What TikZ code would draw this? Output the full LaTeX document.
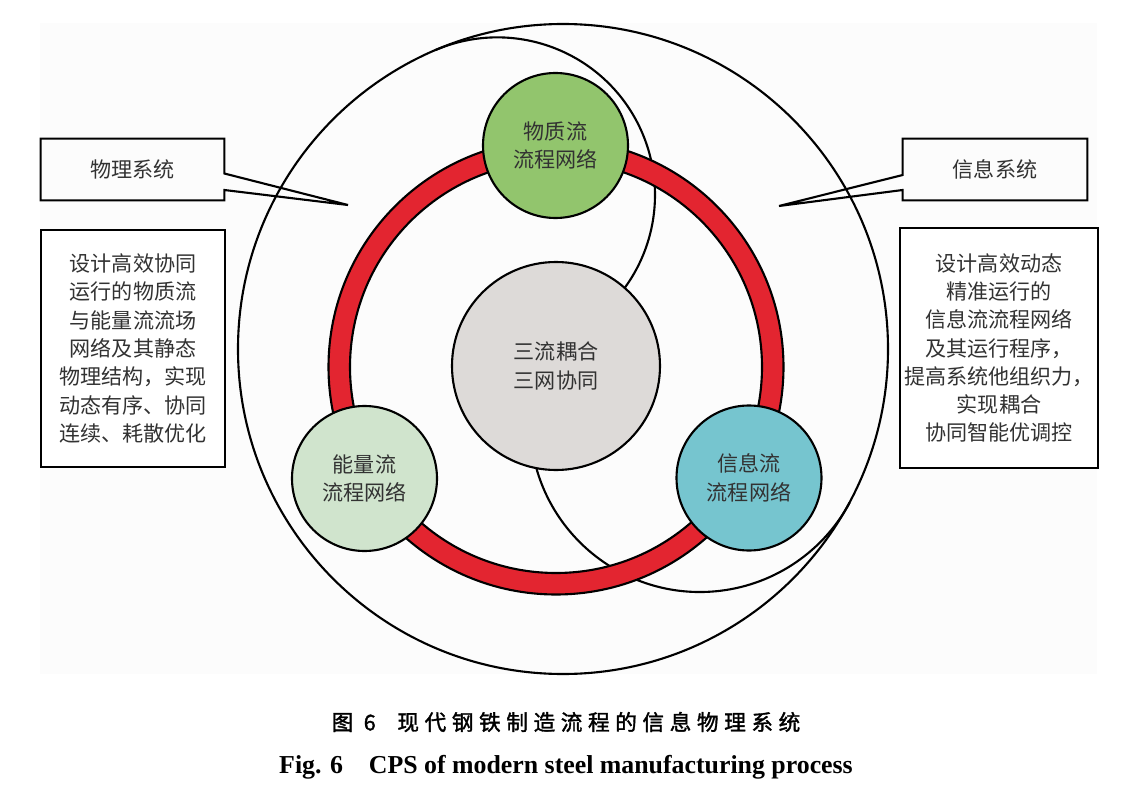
\documentclass[tikz,border=0pt]{standalone}
\usepackage{fontspec}
\setmainfont{Liberation Serif}
\newfontfamily\cjk{Noto Sans CJK SC}
\newfontfamily\cjkcap{Noto Sans CJK SC}[LetterSpace=26, FakeBold=1.6]
\usetikzlibrary{calc}

\definecolor{bgpaper}{RGB}{252,252,252}
\definecolor{ringred}{RGB}{227,37,48}
\definecolor{matgreen}{RGB}{146,197,109}
\definecolor{enggreen}{RGB}{208,228,205}
\definecolor{infocyan}{RGB}{118,197,207}
\definecolor{coregray}{RGB}{221,218,216}
\definecolor{txtgray}{RGB}{50,50,50}

\newcommand{\bodyfont}{\cjk\fontsize{12}{16.1}\selectfont}

\begin{document}
\begin{tikzpicture}[
x=0.2mm, y=0.2mm,
line/.style={draw=black, line width=1.2pt},
flow/.style={line, circle, minimum size=29mm, inner sep=0pt, align=center, font=\bodyfont, text=txtgray},
textbox/.style={line, rectangle, fill=white, inner sep=0pt, align=center, font=\bodyfont, text=txtgray},
callout/.style={rectangle, minimum width=36.6mm, minimum height=12.2mm, inner sep=0pt, font=\bodyfont, text=txtgray}
]
\useasboundingbox (0,0) rectangle (1134,810);
\fill[bgpaper] (40,136) rectangle (1097,787);

% outer circle and the two swoosh arcs
\node[line, circle, minimum size=130mm, inner sep=0pt] (outer) at (563,461) {};
\coordinate (arcA) at (497.4,615);
\coordinate (arcB) at (700,388);
\draw[line] (arcA) ++(113:157.6) arc[start angle=113, end angle=-40, radius=157.6];
\draw[line] (arcB) ++(187:170) arc[start angle=187, end angle=331.8, radius=170];

% red ring
\coordinate (ring) at (556,443);
\draw[line, fill=ringred, even odd rule] (ring) circle[radius=227.5] (ring) circle[radius=206];

% flow networks
\node[flow, fill=matgreen] (mat) at (555.5,664.5) {物质流\\流程网络};
\node[flow, fill=enggreen] (eng) at (364.5,331.5) {能量流\\流程网络};
\node[flow, fill=infocyan] (info) at (749,332) {信息流\\流程网络};
\node[flow, fill=coregray, minimum size=41.6mm] (core) at (556,444) {三流耦合\\三网协同};

% callouts
\node[callout] (phys) at (132.5,640.5) {物理系统};
\coordinate (physTip) at (348,605);
\draw[line, line join=miter] (phys.north west) -- (phys.north east) -- ($(phys.east)+(0,-4)$) -- (physTip)
  -- ($(phys.east)+(0,-20.5)$) -- (phys.south east) -- (phys.south west) -- cycle;
\node[callout, minimum width=36.8mm] (cyber) at (995,640.5) {信息系统};
\coordinate (cyberTip) at (779,604);
\draw[line, line join=miter] (cyber.north east) -- (cyber.north west) -- ($(cyber.west)+(0,-5.5)$) -- (cyberTip)
  -- ($(cyber.west)+(0,-20.5)$) -- (cyber.south west) -- (cyber.south east) -- cycle;

% description boxes
\node[textbox, minimum width=36.8mm, minimum height=47.4mm] (physText) at (133,461.5)
  {设计高效协同\\运行的物质流\\与能量流流场\\网络及其静态\\物理结构，实现\\动态有序、协同\\连续、耗散优化};
\node[textbox, minimum width=39.6mm, minimum height=48mm] (cyberText) at (999,462)
  {设计高效动态\\精准运行的\\信息流流程网络\\及其运行程序，\\提高系统他组织力，\\实现耦合\\协同智能优调控};

% caption
\node[font=\cjkcap\fontsize{12.3}{14}\selectfont] (capCn) at (566,88) {图 6\quad 现代钢铁制造流程的信息物理系统};
\node[anchor=base, font=\bfseries\fontsize{14.7}{18}\selectfont] (capEn) at (566,37) {Fig. 6\quad CPS of modern steel manufacturing process};
\end{tikzpicture}
\end{document}
